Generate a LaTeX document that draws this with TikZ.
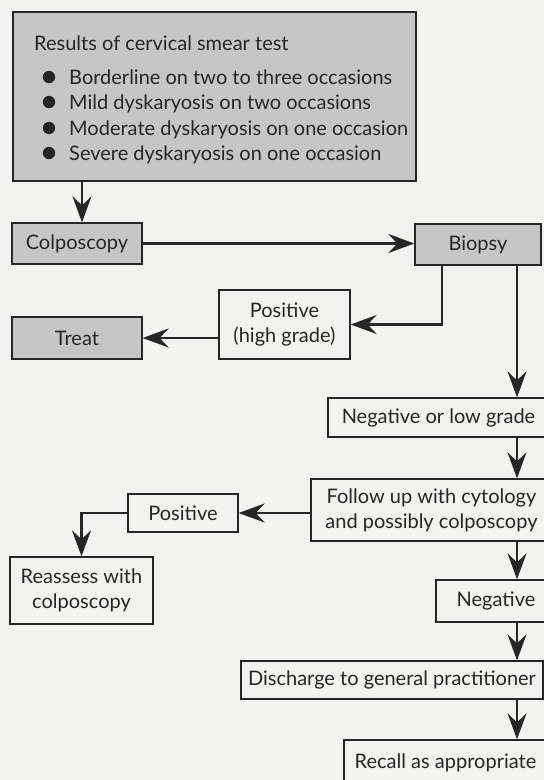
\documentclass[tikz,border=0pt]{standalone}
\usepackage{fontspec}
\setmainfont{Lato}
\usetikzlibrary{arrows.meta,calc}
\definecolor{bgcol}{HTML}{F2F2F0}
\definecolor{boxgray}{HTML}{C6C6C6}
\definecolor{ink}{HTML}{262626}
\tikzset{
  box/.style={draw=ink, line width=1.3pt, text=ink, inner sep=0pt, align=center,
    font=\fontsize{20}{25}\selectfont},
  graybox/.style={box, fill=boxgray},
  whitebox/.style={box, fill=bgcol},
  txt/.style={text=ink, inner sep=0pt, font=\fontsize{20}{25}\selectfont},
  conn/.style={draw=ink, line width=2.2pt,
    -{Stealth[length=26pt,width=19pt,inset=9pt]}},
}
\begin{document}
\begin{tikzpicture}[x=1pt,y=-1pt]
\fill[bgcol] (0,0) rectangle (544,780);
\useasboundingbox (0,0) rectangle (544,780);
\clip (0,0) rectangle (544,780);

\coordinate (cA) at (82,0);
\coordinate (cB) at (442,0);
\coordinate (cC) at (517,0);

% top box
\node[graybox, minimum width=403pt, minimum height=169pt] (top) at (214.5,96.5) {};
\node[txt, anchor=base west] (title) at (34,50) {Results of cervical smear test};
\foreach \n/\yy/\t in {1/84/Borderline on two to three occasions,
                       2/109/Mild dyskaryosis on two occasions,
                       3/135/Moderate dyskaryosis on one occasion,
                       4/160/Severe dyskaryosis on one occasion}{
  \fill[ink] (49,\yy-7) circle (6.2pt);
  \node[txt, anchor=base west] (item\n) at (69,\yy) {\t};
}

\node[graybox, minimum width=130pt, minimum height=41pt] (colpo) at (77,243.5) {Colposcopy};
\node[graybox, minimum width=126pt, minimum height=41pt] (biopsy) at (478,244.5) {Biopsy};
\node[whitebox, minimum width=131pt, minimum height=69pt] (poshigh) at (284.5,324.5) {Positive\\(high grade)};
\node[graybox, minimum width=130pt, minimum height=42pt] (treat) at (77,338) {Treat};
\node[whitebox, minimum width=221pt, minimum height=39pt] (neglow) at (438.5,417.5) {Negative or low grade};
\node[whitebox, minimum width=241pt, minimum height=62pt] (follow) at (431.5,510) {Follow up with cytology\\and possibly colposcopy};
\node[whitebox, minimum width=110pt, minimum height=38pt] (pos) at (183,513) {Positive};
\node[whitebox, minimum width=143pt, minimum height=67pt] (reassess) at (81.5,590.5) {Reassess with\\colposcopy};
\node[whitebox, minimum width=120pt, minimum height=42pt] (negative) at (496,601) {Negative};
\node[whitebox, minimum width=302pt, minimum height=38pt] (discharge) at (392,680) {Discharge to general practitioner};
\node[whitebox, minimum width=203pt, minimum height=45pt] (recall) at (445.5,762.5) {Recall as appropriate};

\draw[conn] (top.south -| cA) -- (colpo.north -| cA);
\draw[conn] (colpo.east) -- (colpo.east -| biopsy.west);
\draw[conn] (biopsy.south -| cB) |- (poshigh.east);
\draw[conn] (treat.east -| poshigh.west) -- (treat.east);
\draw[conn] (biopsy.south -| cC) -- (neglow.north -| cC);
\draw[conn] (neglow.south -| cC) -- (follow.north -| cC);
\draw[conn] (follow.west |- pos.east) -- (pos.east);
\draw[conn] (pos.west) -| (reassess.north);
\draw[conn] (follow.south -| cC) -- (negative.north -| cC);
\draw[conn] (negative.south -| cC) -- (discharge.north -| cC);
\draw[conn] (discharge.south -| cC) -- (recall.north -| cC);
\end{tikzpicture}
\end{document}
